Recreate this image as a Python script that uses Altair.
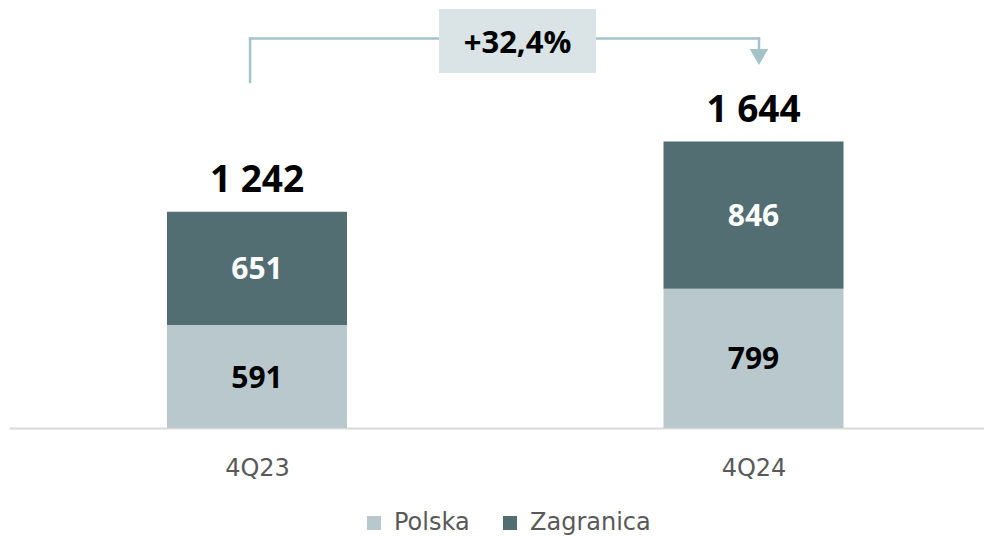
import altair as alt
import pandas as pd

# ---- data ----
categories = ["4Q23", "4Q24"]
series_names = ["Polska", "Zagranica"]
polska = [591, 799]
zagranica = [651, 846]
totals = [1242, 1644]
change_label = "+32,4%"

# ---- styles ----
LIGHT = "#b8c8cd"
DARK = "#536e73"
BRACKET = "#a3c3cb"
BOX = "#dae3e6"
BOLD_FONT = "Open Sans"
REG_FONT = "DejaVu Sans"
GREY_TXT = "#595959"

rows = []
for i, c in enumerate(categories):
    rows.append({"idx": i, "cat": c, "series": series_names[0], "value": polska[i], "order": 0})
    rows.append({"idx": i, "cat": c, "series": series_names[1], "value": zagranica[i], "order": 1})
df = pd.DataFrame(rows)
tot_df = pd.DataFrame({"idx": list(range(len(categories))), "cat": categories, "total": totals})

xs = alt.Scale(domain=[-0.4995, 1.4642], nice=False, zero=False, padding=0)
ys = alt.Scale(domain=[0, 2400], nice=False, zero=True, padding=0)

label_expr = "[" + ",".join("'%s'" % c for c in categories) + "][datum.value]"

bars = alt.Chart(df).mark_bar(size=180).encode(
    x=alt.X("idx:Q", scale=xs, axis=alt.Axis(
        values=list(range(len(categories))), labelExpr=label_expr, title=None,
        grid=False, ticks=False, domainColor="#d9d9d9", domainWidth=2,
        labelFont=REG_FONT, labelFontSize=24, labelColor=GREY_TXT,
        labelPadding=28, labelFontWeight="normal")),
    y=alt.Y("value:Q", stack="zero", scale=ys, axis=None),
    color=alt.Color("series:N", scale=alt.Scale(domain=series_names, range=[LIGHT, DARK]),
                    legend=alt.Legend(
                        title=None, orient="none", legendX=353, legendY=501,
                        direction="horizontal", symbolType="square", symbolSize=196,
                        symbolStrokeWidth=0, labelFont=REG_FONT, labelFontSize=24,
                        labelColor=GREY_TXT, columnPadding=28, labelOffset=8, padding=0)),
    order=alt.Order("order:Q"),
)

seg_labels = alt.Chart(df).transform_stack(
    stack="value", groupby=["idx"], as_=["y0", "y1"], sort=[alt.SortField("order")]
).transform_calculate(
    mid="(datum.y0 + datum.y1) / 2",
    tcol="datum.order == 0 ? '#000000' : '#ffffff'",
).mark_text(font=BOLD_FONT, fontSize=30, fontWeight="bold", baseline="alphabetic", dy=11).encode(
    x=alt.X("idx:Q"), y=alt.Y("mid:Q"), text=alt.Text("value:Q"),
    color=alt.Color("tcol:N", scale=None),
)

tot_labels = alt.Chart(tot_df).transform_calculate(
    lbl="replace(format(datum.total, ','), ',', ' ')"
).mark_text(font=BOLD_FONT, fontSize=37, fontWeight="bold", baseline="alphabetic", dy=-20,
            color="#000000").encode(
    x=alt.X("idx:Q"), y=alt.Y("total:Q"), text=alt.Text("lbl:N"),
)

# ---- change bracket annotation (in data units) ----
bracket_df = pd.DataFrame([
    {"x": -0.014, "x2": -0.014, "y": 1987, "y2": 2236},
    {"x": -0.014, "x2": 1.011, "y": 2236, "y2": 2236},
    {"x": 1.011, "x2": 1.011, "y": 2236, "y2": 2176},
])
bracket = alt.Chart(bracket_df).mark_rule(color=BRACKET, strokeWidth=2.5, strokeCap="square").encode(
    x="x:Q", x2="x2:Q", y="y:Q", y2="y2:Q")

arrow_df = pd.DataFrame([{"x": 1.011, "y": 2130}])
arrow = alt.Chart(arrow_df).mark_point(shape="triangle-down", filled=True, size=340,
                                       color=BRACKET, opacity=1).encode(x="x:Q", y="y:Q")

box_df = pd.DataFrame([{"x": 0.3666, "x2": 0.6828, "y": 2038, "y2": 2406,
                        "tx": 0.5247, "ty": 2153, "label": change_label}])
box = alt.Chart(box_df).mark_rect(color=BOX).encode(x="x:Q", x2="x2:Q", y="y:Q", y2="y2:Q")
box_text = alt.Chart(box_df).mark_text(font=BOLD_FONT, fontSize=31, fontWeight="bold",
                                       baseline="alphabetic", color="#000000").encode(
    x="tx:Q", y="ty:Q", text="label:N")

chart = alt.layer(bars, seg_labels, tot_labels, bracket, arrow, box, box_text).properties(
    width=975, height=418,
    padding={"left": 1, "top": 0, "right": 0, "bottom": 0},
).configure_view(stroke=None)

chart.save("out.html", embed_options={"renderer": "svg", "actions": False})
